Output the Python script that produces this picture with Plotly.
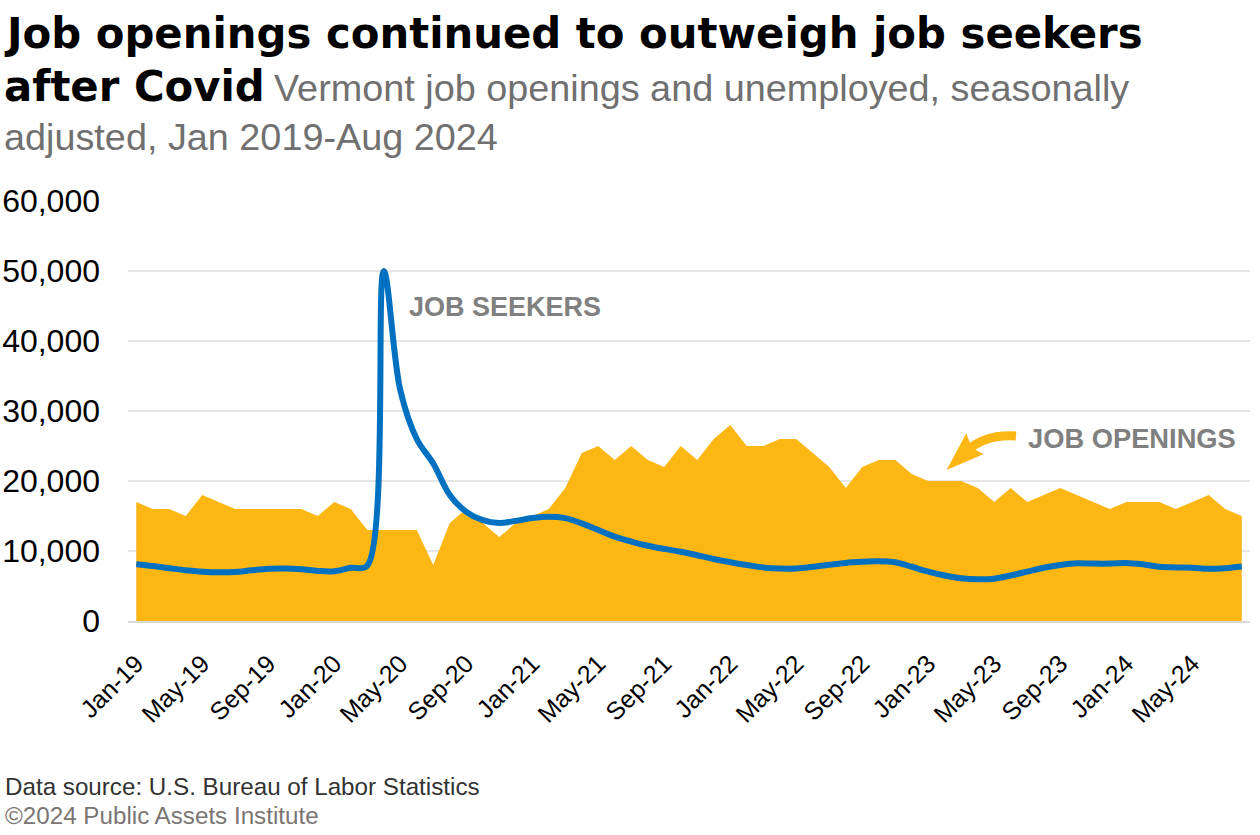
import plotly.graph_objects as go

# ---------------- data ----------------
month_names = ["Jan", "Feb", "Mar", "Apr", "May", "Jun", "Jul", "Aug", "Sep", "Oct", "Nov", "Dec"]
years = ["19", "20", "21", "22", "23", "24"]
months = [f"{m}-{y}" for y in years for m in month_names][:68]  # Jan-19 .. Aug-24

job_openings = [
    17000, 16000, 16000, 15000, 18000, 17000, 16000, 16000, 16000, 16000, 16000, 15000,
    17000, 16000, 13000, 13000, 13000, 13000, 8000, 14000, 16000, 14000, 12000, 14000,
    15000, 16000, 19000, 24000, 25000, 23000, 25000, 23000, 22000, 25000, 23000, 26000,
    28000, 25000, 25000, 26000, 26000, 24000, 22000, 19000, 22000, 23000, 23000, 21000,
    20000, 20000, 20000, 19000, 17000, 19000, 17000, 18000, 19000, 18000, 17000, 16000,
    17000, 17000, 17000, 16000, 17000, 18000, 16000, 15000,
]

unemployed = [
    8100, 7850, 7550, 7250, 7050, 6950, 7000, 7250, 7450, 7500, 7400, 7150,
    7100, 7600, 7900, 50000, 33000, 26000, 22500, 18000, 15600, 14400, 14000, 14300,
    14700, 14900, 14700, 13950, 13000, 12050, 11350, 10750, 10300, 9900, 9400, 8850,
    8400, 8000, 7650, 7500, 7500, 7750, 8050, 8300, 8450, 8550, 8400, 7750,
    7050, 6500, 6100, 5950, 6050, 6500, 7050, 7600, 8000, 8250, 8200, 8200,
    8300, 8100, 7750, 7650, 7600, 7450, 7550, 7800,
]

tick_labels = months[::4]
y_ticks = [0, 10000, 20000, 30000, 40000, 50000, 60000]

# ---------------- styling ----------------
GOLD = "#FDB714"
BLUE = "#0070C0"
W, H = 1260, 835
PL, PR, PT, PB = 128, 1250, 201, 621


def px(x):
    return (x - PL) / (PR - PL)


def py(y):
    return (PB - y) / (PB - PT)


fig = go.Figure()
fig.add_trace(go.Scatter(
    x=months, y=job_openings, mode="lines", fill="tozeroy",
    fillcolor=GOLD, line=dict(width=0, color=GOLD), name="Job openings",
    hoverinfo="x+y",
))
fig.add_trace(go.Scatter(
    x=months, y=unemployed, mode="lines",
    line=dict(width=6, color=BLUE, shape="spline", smoothing=1.0), name="Unemployed",
    hoverinfo="x+y",
))

ann = []
TITLE_FONT = "DejaVu Sans"
SUB_FONT = "Liberation Sans, Arial, sans-serif"


def text(x, y, s, size, color, family=SUB_FONT, bold=False):
    ann.append(dict(
        x=px(x), y=py(y), xref="paper", yref="paper", xanchor="left", yanchor="middle",
        text=f"<b>{s}</b>" if bold else s, showarrow=False, borderpad=0,
        font=dict(family=family, size=size, color=color),
    ))


text(3, 33, "Job openings continued to outweigh job seekers", 41.8, "#000000", TITLE_FONT, True)
text(3, 86, "after Covid", 41.8, "#000000", TITLE_FONT, True)
text(273, 88, "Vermont job openings and unemployed, seasonally", 37.8, "#707070")
text(3, 137, "adjusted, Jan 2019-Aug 2024", 37.8, "#707070")

text(408, 307, "JOB SEEKERS", 27, "#808080", bold=True)
text(1027, 438, "JOB OPENINGS", 27.3, "#808080", bold=True)

text(4, 786, "Data source: U.S. Bureau of Labor Statistics", 24.2, "#333333")
text(4, 815, "©2024 Public Assets Institute", 24.2, "#7a7572")

# curved arrow pointing at the job openings area
def P(x, y):
    return f"{px(x):.5f},{py(y):.5f}"


shaft = f"M {P(1016, 436)} Q {P(984, 434)} {P(966, 452)}"
head = f"M {P(966, 437)} L {P(950, 467)} L {P(980, 454)} Q {P(970, 450)} {P(966, 437)} Z"
shapes = [
    dict(type="path", path=shaft, xref="paper", yref="paper",
         line=dict(color=GOLD, width=9), fillcolor="rgba(0,0,0,0)", layer="above"),
    dict(type="path", path=head, xref="paper", yref="paper",
         line=dict(color=GOLD, width=3), fillcolor=GOLD, layer="above"),
]

fig.update_layout(
    width=W, height=H, autosize=False,
    margin=dict(l=PL, r=W - PR, t=PT, b=H - PB, pad=0, autoexpand=False),
    plot_bgcolor="white", paper_bgcolor="white",
    showlegend=False,
    annotations=ann, shapes=shapes,
    font=dict(family=SUB_FONT, color="#000000"),
)
fig.update_xaxes(
    type="category", range=[-0.5, 67.5], automargin=False,
    tickmode="array", tickvals=tick_labels, ticktext=tick_labels,
    tickangle=-45, tickfont=dict(size=25, color="#000000", family=SUB_FONT),
    showgrid=False, showline=True, linecolor="#D9D9D9", linewidth=2,
    ticks="", ticklabelstandoff=16,
)
fig.update_yaxes(
    range=[0, 60000], tickvals=y_ticks, tickformat=",", automargin=False,
    tickfont=dict(size=32, color="#000000", family=SUB_FONT),
    showgrid=True, gridcolor="#E6E6E6", gridwidth=1.5,
    zeroline=False, showline=False, ticks="", ticklabelstandoff=27,
)

fig.write_html("out.html")
